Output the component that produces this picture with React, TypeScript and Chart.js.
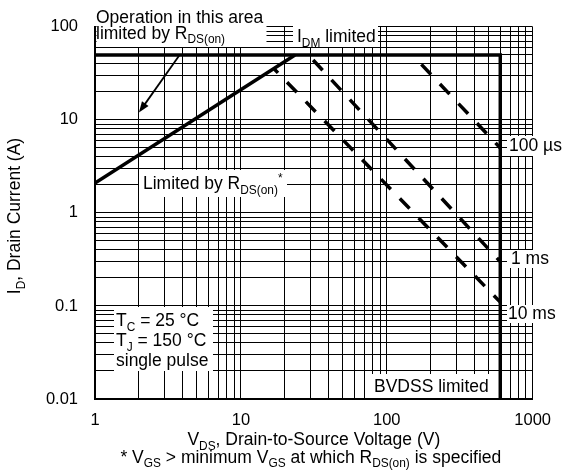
import { useEffect, useRef } from 'react';
import { Chart, registerables } from 'chart.js';

Chart.register(...registerables);

const FAMILY = "'Liberation Sans', Arial, Helvetica, sans-serif";

// Axis structure
const xDecades = [1, 10, 100];
const yDecades = [0.01, 0.1, 1, 10];
const gridMultiples = [1, 2, 3, 4, 5, 6, 7, 8, 9];
const xMin = 1;
const xMax = 1000;
const yMin = 0.01;
const yMax = 100;
const xTickLabels = [1, 10, 100, 1000];
const yTickLabels = [0.01, 0.1, 1, 10, 100];

// Boundary curves (V in volts, I in amps)
const rdsV = [1, 23.5];
const rdsI = [2.1, 50];
const limitV = [1, 600, 600];
const limitI = [50, 50, 0.01];
const us100V = [150, 600];
const us100I = [50, 5];
const ms1V = [29, 600];
const ms1I = [50, 0.3];
const ms10V = [17, 600];
const ms10I = [35, 0.11];
const arrowV = [3.8, 2.0];
const arrowI = [50, 12];

type Part = [string, number?]; // 0 normal, 1 subscript, 2 superscript

const xTitle: Part[] = [['V'], ['DS', 1], [', Drain-to-Source Voltage (V)']];
const footnote: Part[] = [['* V'], ['GS', 1], [' > minimum V'], ['GS', 1], [' at which R'], ['DS(on)', 1], [' is specified']];
const yTitle: Part[] = [['I'], ['D', 1], [', Drain Current (A)']];
const opLine1: Part[] = [['Operation in this area']];
const opLine2: Part[] = [['limited by R'], ['DS(on)', 1]];
const idmLabel: Part[] = [['I'], ['DM', 1], [' limited']];
const rdsLabel: Part[] = [['Limited by R'], ['DS(on)', 1], ['*', 2]];
const bvdssLabel: Part[] = [['BVDSS limited']];
const condLines: Part[][] = [
  [['T'], ['C', 1], [' = 25 °C']],
  [['T'], ['J', 1], [' = 150 °C']],
  [['single pulse']],
];
const pulseLabels: Part[][] = [[['100 µs']], [['1 ms']], [['10 ms']]];

const toXY = (xs: number[], ys: number[]) => xs.map((x, i) => ({ x, y: ys[i] }));

const xGrid = [...xDecades.flatMap((d) => gridMultiples.map((m) => d * m)), xMax];
const yGrid = [...yDecades.flatMap((d) => gridMultiples.map((m) => d * m)), yMax];

function drawRich(ctx: CanvasRenderingContext2D, parts: Part[], x: number, y: number, size: number, align: 'left' | 'center' = 'left') {
  const sub = size * 0.68;
  ctx.textAlign = 'left';
  ctx.textBaseline = 'alphabetic';
  let w = 0;
  const widths: number[] = [];
  for (const p of parts) {
    ctx.font = `${p[1] ? sub : size}px ${FAMILY}`;
    const m = ctx.measureText(p[0]).width;
    widths.push(m);
    w += m;
  }
  let cx = align === 'center' ? x - w / 2 : x;
  parts.forEach((p, i) => {
    ctx.font = `${p[1] ? sub : size}px ${FAMILY}`;
    const dy = p[1] === 1 ? size * 0.27 : p[1] === 2 ? -size * 0.42 : 0;
    ctx.fillText(p[0], cx, y + dy);
    cx += widths[i];
  });
}

const annotPlugin = {
  id: 'annot',
  beforeDatasetsDraw(chart: any) {
    const ctx: CanvasRenderingContext2D = chart.ctx;
    ctx.save();
    ctx.fillStyle = '#fff';
    const boxes = [
      [96.5, 0, 170, 47],
      [293, 22, 85, 25],
      [139, 170, 148, 27],
      [507, 136, 56, 20],
      [507, 250, 48, 18],
      [507, 305, 56, 18],
      [370, 374, 122, 24],
      [114, 307, 99, 64],
    ];
    for (const b of boxes) ctx.fillRect(b[0], b[1], b[2], b[3]);
    ctx.restore();
  },
  afterDatasetsDraw(chart: any) {
    const ctx: CanvasRenderingContext2D = chart.ctx;
    const xs = chart.scales.x;
    const ys = chart.scales.y;
    ctx.save();
    ctx.fillStyle = '#000';
    ctx.strokeStyle = '#000';
    const S = 17.5;
    drawRich(ctx, opLine1, 96, 23, S);
    drawRich(ctx, opLine2, 96, 38.5, S);
    drawRich(ctx, idmLabel, 297, 42, S);
    drawRich(ctx, rdsLabel, 143, 189, S);
    drawRich(ctx, pulseLabels[0], 509, 151, S);
    drawRich(ctx, pulseLabels[1], 511, 264, S);
    drawRich(ctx, pulseLabels[2], 508, 319, S);
    drawRich(ctx, bvdssLabel, 374, 392, S);
    condLines.forEach((l, i) => drawRich(ctx, l, 116, 326 + i * 20, S));

    // arrow
    const x0 = xs.getPixelForValue(arrowV[0]);
    const y0 = ys.getPixelForValue(arrowI[0]);
    const x1 = xs.getPixelForValue(arrowV[1]);
    const y1 = ys.getPixelForValue(arrowI[1]);
    const ang = Math.atan2(y1 - y0, x1 - x0);
    const L = 11;
    const H = 4;
    ctx.lineWidth = 1.8;
    ctx.beginPath();
    ctx.moveTo(x0, y0);
    ctx.lineTo(x1 - Math.cos(ang) * L * 0.8, y1 - Math.sin(ang) * L * 0.8);
    ctx.stroke();
    ctx.beginPath();
    ctx.moveTo(x1, y1);
    ctx.lineTo(x1 - Math.cos(ang) * L + Math.sin(ang) * H, y1 - Math.sin(ang) * L - Math.cos(ang) * H);
    ctx.lineTo(x1 - Math.cos(ang) * L - Math.sin(ang) * H, y1 - Math.sin(ang) * L + Math.cos(ang) * H);
    ctx.closePath();
    ctx.fill();
    ctx.restore();
  },
  afterDraw(chart: any) {
    const ctx: CanvasRenderingContext2D = chart.ctx;
    const area = chart.chartArea;
    const cx = (area.left + area.right) / 2;
    ctx.save();
    ctx.fillStyle = '#000';
    drawRich(ctx, xTitle, cx, 445, 17.5, 'center');
    drawRich(ctx, footnote, cx - 3, 462.5, 17.5, 'center');
    ctx.translate(20, 216);
    ctx.rotate(-Math.PI / 2);
    drawRich(ctx, yTitle, 0, 0, 17.5, 'center');
    ctx.restore();
  },
};

export default function App() {
  const ref = useRef<HTMLCanvasElement>(null);
  useEffect(() => {
    document.body.style.margin = '0';
    const heavy = { showLine: true, pointRadius: 0, borderColor: '#000', borderWidth: 3.5, fill: false };
    const dashed = { ...heavy, borderDash: [14, 13] };
    const chart = new Chart(ref.current!, {
      type: 'scatter',
      data: {
        datasets: [
          { ...heavy, label: 'RDS(on) limit', data: toXY(rdsV, rdsI) },
          { ...heavy, label: 'IDM / BVDSS limit', data: toXY(limitV, limitI), borderJoinStyle: 'miter' },
          { ...dashed, label: '100 µs', data: toXY(us100V, us100I), borderDashOffset: 14 },
          { ...dashed, label: '1 ms', data: toXY(ms1V, ms1I), borderDashOffset: 20 },
          { ...dashed, label: '10 ms', data: toXY(ms10V, ms10I), borderDashOffset: 9 },
        ] as any,
      },
      options: {
        animation: false,
        responsive: true,
        maintainAspectRatio: false,
        layout: { padding: { left: 0, top: 20, right: 30, bottom: 0 } },
        plugins: { legend: { display: false }, tooltip: { enabled: false } },
        scales: {
          x: {
            type: 'logarithmic',
            position: 'bottom',
            min: xMin,
            max: xMax,
            afterBuildTicks: (axis: any) => {
              axis.ticks = xGrid.map((v) => ({ value: v }));
            },
            afterFit: (scale: any) => {
              scale.height = 73;
            },
            grid: { color: '#000', lineWidth: 1, drawTicks: false },
            border: { display: true, color: '#000', width: 2 },
            ticks: {
              autoSkip: false,
              maxRotation: 0,
              minRotation: 0,
              padding: 12,
              color: '#000',
              font: { family: FAMILY, size: 16.5 },
              callback: (v: any) => (xTickLabels.includes(Number(v)) ? String(v) : ''),
            },
          },
          y: {
            type: 'logarithmic',
            position: 'left',
            min: yMin,
            max: yMax,
            afterBuildTicks: (axis: any) => {
              axis.ticks = yGrid.map((v) => ({ value: v }));
            },
            afterFit: (scale: any) => {
              scale.width = 95;
            },
            grid: { color: '#000', lineWidth: 1, drawTicks: false },
            border: { display: true, color: '#000', width: 2 },
            ticks: {
              autoSkip: false,
              padding: 17,
              color: '#000',
              font: { family: FAMILY, size: 16.5 },
              callback: (v: any) => (yTickLabels.includes(Number(v)) ? String(v) : ''),
            },
          },
        },
      } as any,
      plugins: [annotPlugin],
    });
    return () => chart.destroy();
  }, []);
  return (
    <div style={{ width: 563, height: 472, position: 'relative', background: '#fff' }}>
      <canvas ref={ref} />
    </div>
  );
}
